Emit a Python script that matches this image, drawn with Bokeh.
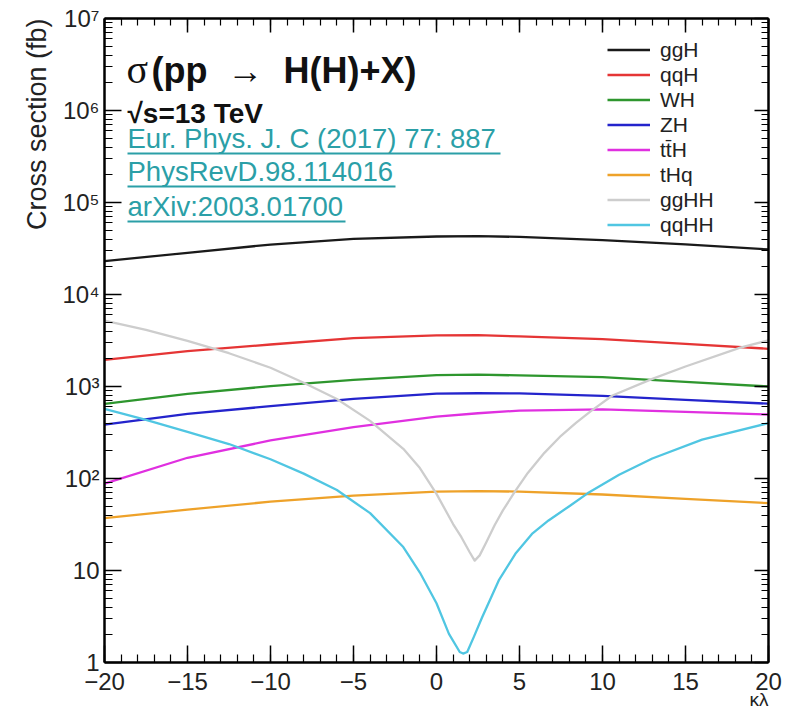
from bokeh.plotting import figure
from bokeh.models import (FixedTicker, CustomJSTickFormatter, LinearAxis, LogAxis,
                          Label, Title, BoxAnnotation, Range1d)
from bokeh.embed import file_html
from bokeh.resources import INLINE
import math

# ---------------- data ----------------
kl_single = [-20, -15, -10, -5, 0, 2.5, 5, 10, 15, 20]
ggH = [23000, 28400, 34900, 40300, 42700, 43000, 42300, 39000, 35000, 30900]
qqH = [1950, 2420, 2860, 3350, 3600, 3620, 3500, 3270, 2910, 2570]
WH = [649, 833, 1008, 1183, 1330, 1345, 1320, 1265, 1120, 1000]
ZH = [386, 505, 611, 735, 835, 845, 840, 790, 717, 650]
ttH = [88, 168, 259, 361, 470, 512, 548, 565, 530, 496]
tHq = [37, 46, 56, 65, 72, 73, 72, 67, 60, 54]

kl_gghh = [-20, -17.5, -15, -12.5, -10, -8, -6, -4, -2, -1, 0, 1, 1.5, 2, 2.3, 2.6,
           3, 3.5, 4, 4.7, 5.5, 6.5, 7.5, 8.4, 9.3, 10.6, 13, 15, 18.3, 20]
ggHH = [5200, 4120, 3130, 2300, 1600, 1100, 730, 423, 210, 130, 68, 32, 23, 15.8, 12.8, 14.6,
        20.3, 31, 45, 71, 115, 190, 291, 402, 540, 798, 1210, 1650, 2650, 3180]

kl_qqhh = [-20, -17.5, -15, -12.5, -10, -8, -6, -4, -2, -1, 0, 0.75, 1.4, 1.6, 1.85, 2.25,
           2.75, 3.75, 4.75, 5.75, 6.75, 8, 9.1, 11, 13, 16, 20]
qqHH = [572, 434, 322, 237, 162, 113, 75, 42, 18, 9.5, 4.4, 2.05, 1.3, 1.25, 1.3, 1.9,
        3.1, 7.8, 15.2, 25, 35, 50, 69, 110, 165, 265, 400]

series_names = ["ggH", "qqH", "WH", "ZH", "tt\u0304H", "tHq", "ggHH", "qqHH"]
series_colors = ["#1a1a1a", "#e53535", "#2e962e", "#2424cc", "#e030e0", "#eea22a", "#cdcdcd", "#50c6e2"]

x_tick_values = [-20, -15, -10, -5, 0, 5, 10, 15, 20]
y_tick_values = [1, 10, 1e2, 1e3, 1e4, 1e5, 1e6, 1e7]
y_tick_labels = ["1", "10", "10\u00b2", "10\u00b3", "10\u2074", "10\u2075", "10\u2076", "10\u2077"]

title_text = "(pp\u00a0\u00a0\u2192\u00a0\u00a0H(H)+X)"
energy_text = "\u221As=13 TeV"
link_texts = ["Eur. Phys. J. C (2017) 77: 887", "PhysRevD.98.114016", "arXiv:2003.01700"]
y_title = "Cross section (fb)"
x_title = "\u03ba\u03bb"

# ---------------- layout ----------------
W, H = 787, 714
LEFT, RIGHT, TOP, BOTTOM = 104, 19, 18, 52
X0, X1 = -20, 20
Y0, Y1 = 1, 1e7
FW = W - LEFT - RIGHT
FH = H - TOP - BOTTOM


def dx(px):
    return X0 + (px - LEFT) / FW * (X1 - X0)


def dy(py):
    return 10 ** (math.log10(Y0) + (TOP + FH - py) / FH * (math.log10(Y1) - math.log10(Y0)))


def base(py, size):
    # baseline correction for the renderer's alphabetic baseline offset
    return dy(py - 0.37 * size)


p = figure(width=W, height=H, x_range=Range1d(X0, X1), y_range=Range1d(Y0, Y1),
           y_axis_type="log", output_backend="svg", toolbar_location=None,
           min_border_left=LEFT, min_border_right=RIGHT, min_border_top=TOP,
           min_border_bottom=BOTTOM)
p.title.visible = False
p.xgrid.visible = False
p.ygrid.visible = False
p.outline_line_color = None
p.background_fill_color = "white"
p.border_fill_color = "white"

xs_list = [kl_single] * 6 + [kl_gghh, kl_qqhh]
ys_list = [ggH, qqH, WH, ZH, ttH, tHq, ggHH, qqHH]
for xs, ys, name, col in zip(xs_list, ys_list, series_names, series_colors):
    p.line(xs, ys, line_color=col, line_width=2.3, legend_label=name, line_join="round")

x_minor = list(range(-20, 21))
y_minor = [k * 10 ** n for n in range(0, 7) for k in range(2, 10)]
xticker = FixedTicker(ticks=x_tick_values, minor_ticks=x_minor)
yticker = FixedTicker(ticks=y_tick_values, minor_ticks=y_minor)

xfmt = CustomJSTickFormatter(code="return tick < 0 ? '\u2212' + Math.abs(tick) : String(tick);")
yfmt = CustomJSTickFormatter(args=dict(vals=y_tick_values, labels=y_tick_labels), code="""
let best = 0, bd = Infinity;
for (let i = 0; i < vals.length; i++) {
  const d = Math.abs(Math.log10(tick) - Math.log10(vals[i]));
  if (d < bd) { bd = d; best = i; }
}
return labels[best];
""")
blank = CustomJSTickFormatter(code="return '';")


def style(ax, major, minor, show_labels):
    ax.axis_line_width = 2.5
    ax.axis_line_color = "black"
    ax.major_tick_in = major
    ax.major_tick_out = 0
    ax.minor_tick_in = minor
    ax.minor_tick_out = 0
    ax.major_tick_line_color = "black"
    ax.minor_tick_line_color = "black"
    ax.major_tick_line_width = 1.5
    ax.minor_tick_line_width = 1.2
    if show_labels:
        ax.major_label_text_font = "Liberation Sans"
        ax.major_label_text_font_size = "24px"
        ax.major_label_text_color = "#222222"
    else:
        ax.major_label_text_font_size = "0px"
        ax.major_label_standoff = 0


xa = p.xaxis[0]
xa.ticker = xticker
xa.formatter = xfmt
style(xa, 17, 8, True)
xa.major_label_standoff = 10

ya = p.yaxis[0]
ya.ticker = yticker
ya.formatter = yfmt
style(ya, 17, 8, True)
ya.major_label_standoff = 5

top_ax = LinearAxis(ticker=xticker, formatter=blank)
style(top_ax, 14, 7, False)
p.add_layout(top_ax, "above")
right_ax = LogAxis(ticker=yticker, formatter=blank)
style(right_ax, 14, 7, False)
p.add_layout(right_ax, "right")

yt = Title(text=y_title, align="right", text_font="Liberation Sans", text_font_size="27px",
           text_font_style="normal", text_color="#222222", standoff=16)
p.add_layout(yt, "left")

# x-axis title, bottom right (tucked under the tick labels)
xt = Title(text=x_title, align="right", text_font="Liberation Sans", text_font_size="19px",
           text_font_style="normal", text_color="#222222")
try:
    xt.standoff = -11
except Exception:
    xt.standoff = 0
p.add_layout(xt, "below")

# legend
leg = p.legend[0]
leg.location = (503, 425)
leg.margin = 0
leg.padding = 0
leg.spacing = 0
leg.glyph_width = 43
leg.glyph_height = 25
leg.label_height = 25
leg.label_standoff = 10
leg.label_text_font = "Liberation Sans"
leg.label_text_font_size = "21px"
leg.label_text_color = "#222222"
leg.background_fill_alpha = 0
leg.border_line_alpha = 0

# header texts
p.add_layout(Label(x=dx(126), y=base(84, 40), text="\u03c3", text_font="Liberation Serif",
                   text_font_size="40px", text_baseline="alphabetic", text_color="#111111"))
p.add_layout(Label(x=dx(151), y=base(83, 36), text=title_text, text_font="Liberation Sans",
                   text_font_size="36px", text_font_style="bold", text_baseline="alphabetic",
                   text_color="#111111"))
p.add_layout(Label(x=dx(127), y=base(123, 28), text=energy_text, text_font="Liberation Sans",
                   text_font_size="28px", text_font_style="bold", text_baseline="alphabetic",
                   text_color="#111111"))

teal = "#2b9fa7"
link_base = [148, 181, 216]
link_len = [373, 268, 218]
for t, b, ln in zip(link_texts, link_base, link_len):
    p.add_layout(Label(x=dx(127), y=base(b, 27.5), text=t, text_font="Liberation Sans",
                       text_font_size="27.5px", text_baseline="alphabetic", text_color=teal))
    p.add_layout(BoxAnnotation(left=dx(127), right=dx(127 + ln), top=dy(b + 4), bottom=dy(b + 6),
                               fill_color=teal, fill_alpha=1, line_color=None, level="overlay"))

open("out.html", "w").write(file_html(p, INLINE))
